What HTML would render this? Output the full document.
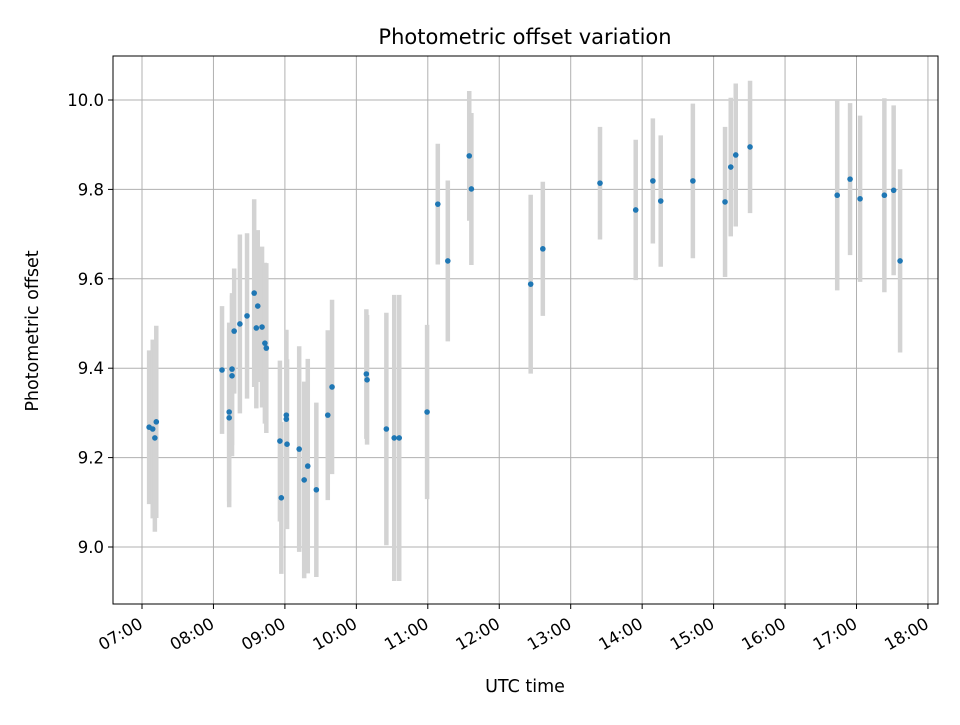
<!DOCTYPE html>
<html><head><meta charset="utf-8"><style>
body{margin:0;background:#fff;}
svg text{font-family:"DejaVu Sans","Liberation Sans",sans-serif;fill:#000;}
</style></head><body>
<svg id="chart" width="960" height="720" xmlns="http://www.w3.org/2000/svg">
<rect width="960" height="720" fill="#fff"/>
<g id="grid"></g>
<g id="bars"></g>
<g id="pts"></g>
<rect x="113" y="56" width="825" height="548" fill="none" stroke="#000" stroke-width="1"/>
<g id="ticks"></g>
<text x="525" y="44" font-size="21" text-anchor="middle">Photometric offset variation</text>
<text x="525" y="692" font-size="17.5" text-anchor="middle">UTC time</text>
<text transform="translate(38,331) rotate(-90)" font-size="17.5" text-anchor="middle">Photometric offset</text>
</svg>
<script>
const times=[7.10,7.15,7.20,7.18,8.12,8.22,8.22,8.26,8.26,8.29,8.37,8.47,8.57,8.62,8.60,8.68,8.72,8.74,8.95,8.93,9.02,9.02,9.03,9.20,9.27,9.32,9.44,9.60,9.66,10.14,10.15,10.42,10.53,10.60,10.99,11.14,11.28,11.58,11.61,12.44,12.61,13.41,13.91,14.15,14.26,14.71,15.16,15.24,15.31,15.51,16.73,16.91,17.05,17.39,17.52,17.61];
const values=[9.268,9.264,9.280,9.244,9.396,9.302,9.289,9.398,9.383,9.483,9.499,9.517,9.568,9.539,9.490,9.492,9.456,9.445,9.110,9.237,9.295,9.286,9.230,9.219,9.150,9.181,9.128,9.295,9.358,9.387,9.374,9.264,9.244,9.244,9.302,9.767,9.640,9.875,9.801,9.588,9.667,9.814,9.754,9.819,9.774,9.819,9.772,9.850,9.877,9.895,9.787,9.823,9.779,9.787,9.798,9.640];
const errors=[0.172,0.20,0.215,0.21,0.143,0.2,0.2,0.17,0.18,0.14,0.20,0.185,0.21,0.17,0.18,0.18,0.18,0.19,0.17,0.18,0.19,0.2,0.19,0.23,0.22,0.24,0.195,0.19,0.195,0.145,0.145,0.26,0.32,0.32,0.195,0.135,0.18,0.145,0.17,0.2,0.15,0.126,0.157,0.14,0.147,0.173,0.168,0.155,0.16,0.148,0.213,0.17,0.186,0.217,0.19,0.205];
const xTicks=[7,8,9,10,11,12,13,14,15,16,17,18];
const xTickLabels=["07:00","08:00","09:00","10:00","11:00","12:00","13:00","14:00","15:00","16:00","17:00","18:00"];
const yTicks=[9.0,9.2,9.4,9.6,9.8,10.0];
const yTickLabels=["9.0","9.2","9.4","9.6","9.8","10.0"];
const NS="http://www.w3.org/2000/svg";
const x=h=>142+(h-7)*71.45;
const y=v=>100+(10-v)*447;
function mk(tag,attrs,parent){const e=document.createElementNS(NS,tag);for(const k in attrs)e.setAttribute(k,attrs[k]);parent.appendChild(e);return e;}
const grid=document.getElementById('grid'),bars=document.getElementById('bars'),pts=document.getElementById('pts'),ticks=document.getElementById('ticks');
xTicks.forEach((t,i)=>{
 const g=mk('line',{x1:x(t),x2:x(t),y1:56,y2:604,stroke:'#b0b0b0','stroke-width':1},grid);
 
 
 const tk=mk('line',{x1:x(t),x2:x(t),y1:604,y2:609,stroke:'#000'},ticks);
 
 
 const tx=mk('text',{transform:`translate(${x(t)+2},${627}) rotate(-30)`,'font-size':'16.5','text-anchor':'end'},ticks);
 tx.textContent=xTickLabels[i];
 
 
});
yTicks.forEach((t,i)=>{
 const g=mk('line',{x1:113,x2:938,y1:y(t),y2:y(t),stroke:'#b0b0b0','stroke-width':1},grid);
 
 
 const tk=mk('line',{x1:108,x2:113,y1:y(t),y2:y(t),stroke:'#000'},ticks);
 
 
 const tx=mk('text',{x:104,y:y(t)+6,'font-size':'16.5','text-anchor':'end'},ticks);
 tx.textContent=yTickLabels[i];
 
 
});
times.forEach((t,i)=>{
 const b=mk('line',{x1:x(t),x2:x(t),y1:y(values[i]+errors[i]),y2:y(values[i]-errors[i]),stroke:'#d3d3d3','stroke-width':4.5},bars);
 
 
 const c=mk('circle',{cx:x(t),cy:y(values[i]),r:2.8,fill:'#1f77b4'},pts);
 
 
});
</script>
</body></html>
